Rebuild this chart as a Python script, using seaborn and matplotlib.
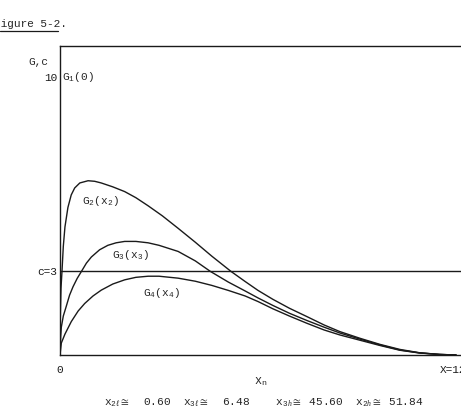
import numpy as np
import pandas as pd
import matplotlib
matplotlib.use("Agg")
import matplotlib.pyplot as plt
from matplotlib.lines import Line2D
import seaborn as sns

# curve readings (x_n, G)
g2_x = [0, 0.1, 0.3, 0.6, 1.0, 1.5, 2.4, 3.4, 4.45, 6.0, 8.5, 10.5, 12.5, 16, 19.6, 23, 26.7, 31, 35.8, 41, 46,
        51.84, 56.1, 60, 64.5, 69.5, 74.8, 80, 84.8, 90.9, 97, 103, 109, 115, 120]
g2_y = [0, 1.4, 2.4, 3.0, 3.9, 4.6, 5.3, 5.75, 6.0, 6.18, 6.26, 6.24, 6.18, 6.04, 5.87, 5.65, 5.36, 5.0, 4.55, 4.05, 3.55,
        3.0, 2.64, 2.32, 2.0, 1.68, 1.38, 1.08, 0.84, 0.6, 0.38, 0.2, 0.08, 0.02, 0]

g3_x = [0, 0.2, 0.4, 1.0, 1.9, 2.9, 3.94, 5.2, 6.48, 8.0, 9.5, 12, 14.5, 17, 19.6, 23, 26.7, 30, 35.8, 41, 45.6,
        51, 56.1, 60, 64.5, 69.5, 74.8, 80, 84.8, 90.9, 97, 103, 109, 115, 120]
g3_y = [0, 0.65, 1.0, 1.4, 1.75, 2.15, 2.45, 2.75, 3.0, 3.3, 3.52, 3.78, 3.94, 4.03, 4.08, 4.08, 4.03, 3.94, 3.72, 3.38, 3.0,
        2.62, 2.3, 2.05, 1.78, 1.5, 1.24, 1.0, 0.79, 0.57, 0.36, 0.18, 0.075, 0.02, 0]

g4_x = [0, 0.4, 1.5, 3.42, 5.5, 7.48, 10, 12.5, 16, 19.6, 23, 26.7, 30, 35.8, 41, 46, 51, 56.1, 60, 64.5, 69.5,
        74.8, 80, 84.8, 90.9, 97, 103, 109, 115, 120]
g4_y = [0, 0.43, 0.75, 1.2, 1.58, 1.85, 2.12, 2.33, 2.55, 2.7, 2.79, 2.83, 2.83, 2.76, 2.65, 2.5, 2.32, 2.12, 1.92, 1.66, 1.4,
        1.14, 0.9, 0.72, 0.53, 0.34, 0.17, 0.07, 0.02, 0]

c_level = 3
g1_at_zero = 10
x_max = 120
bounds_text = (r"x$_{2\ell}\cong$  0.60  x$_{3\ell}\cong$  6.48    "
               r"x$_{3h}\cong$ 45.60  x$_{2h}\cong$ 51.84")

df = pd.concat([
    pd.DataFrame({"x": g2_x, "G": g2_y, "curve": "G2"}),
    pd.DataFrame({"x": g3_x, "G": g3_y, "curve": "G3"}),
    pd.DataFrame({"x": g4_x, "G": g4_y, "curve": "G4"}),
])

sns.set_style("white")
mono = ["Liberation Mono", "DejaVu Sans Mono"]
plt.rcParams["font.family"] = mono
plt.rcParams["mathtext.fontset"] = "custom"
plt.rcParams["mathtext.rm"] = "Liberation Mono"
plt.rcParams["mathtext.it"] = "Liberation Serif:italic"
fs = 8

fig = plt.figure(figsize=(4.61, 4.19), dpi=100)
ax = fig.add_axes([60 / 461, 64 / 419, 1 - 60 / 461, 309 / 419])

sns.lineplot(data=df, x="x", y="G", units="curve", estimator=None, color="#1a1a1a",
             linewidth=1.0, sort=False, ax=ax, legend=False)
ax.axhline(c_level, color="#1a1a1a", linewidth=1.0)

ax.set_xlim(0, 121.5)
ax.set_ylim(0, 11.1)
for s in ["left", "top", "bottom"]:
    ax.spines[s].set_color("#1a1a1a")
    ax.spines[s].set_linewidth(1.0)
ax.spines["right"].set_visible(False)

ax.set_yticks([c_level, g1_at_zero])
ax.set_yticklabels(["c=3", "10"], fontsize=fs)
ax.tick_params(axis="y", direction="inout", length=4, width=0.8, pad=0, colors="#1a1a1a")
ax.set_xticks([0, x_max])
ax.set_xticklabels(["0", "X=120"], fontsize=fs)
ax.tick_params(axis="x", length=0, pad=7, colors="#1a1a1a")
ax.set_xlabel(r"x$_{\mathrm{n}}$", fontsize=fs + 0.5, labelpad=0)
ax.set_ylabel("")

ax.text(0.6, g1_at_zero, r"G$_1$(0)", fontsize=fs, va="center", ha="left")
ax.text(6.7, 5.54, r"G$_2$(x$_2$)", fontsize=fs, va="center", ha="left")
ax.text(15.8, 3.6, r"G$_3$(x$_3$)", fontsize=fs, va="center", ha="left")
ax.text(25.2, 2.23, r"G$_4$(x$_4$)", fontsize=fs, va="center", ha="left")

fig.text(48 / 461, 1 - 62 / 419, "G,c", fontsize=fs, ha="right", va="center")
fig.text(-6 / 461, 1 - 24 / 419, "Figure 5-2.", fontsize=fs, ha="left", va="center")
fig.add_artist(Line2D([0, 58 / 461], [1 - 31 / 419, 1 - 31 / 419], color="#1a1a1a", linewidth=0.9))
fig.text(264 / 461, 1 - 403 / 419, bounds_text, fontsize=fs, ha="center", va="center")

fig.savefig("out.png", dpi=100)
